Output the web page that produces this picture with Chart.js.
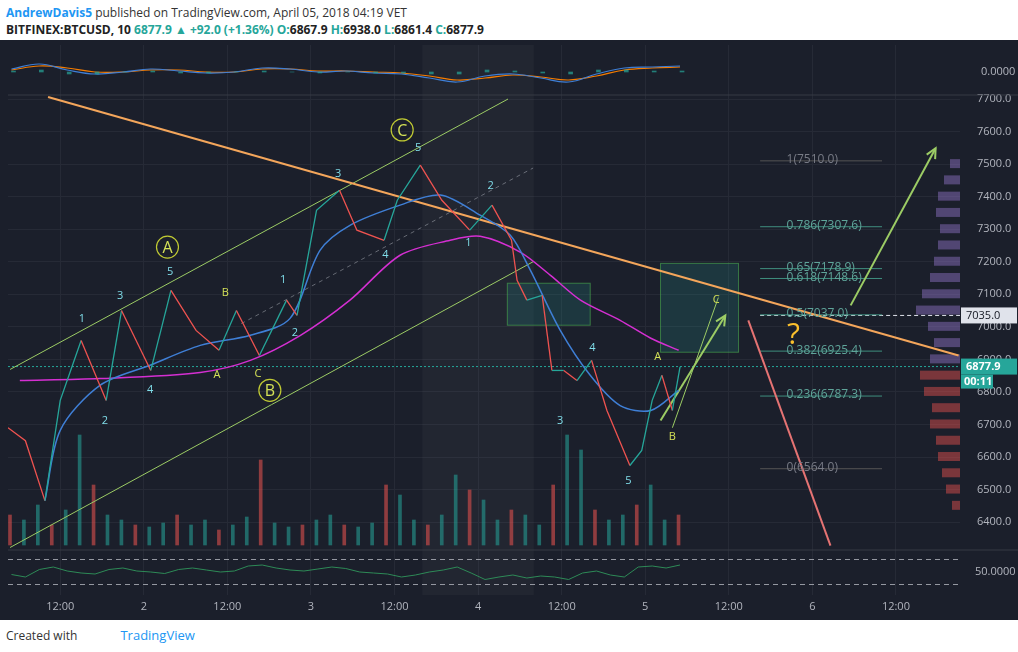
<!DOCTYPE html>
<html>
<head>
<meta charset="utf-8">
<script src="https://cdn.jsdelivr.net/npm/chart.js@4"></script>
<style>
  body { margin: 0; width: 1018px; height: 652px; background: #fff; font-family: "Open Sans", sans-serif; overflow: hidden; }
  #head1 { position: absolute; left: 6px; top: 4px; font-size: 12px; color: #333; }
  #head1 b { color: #2196f3; }
  #head2 { position: absolute; left: 6px; top: 21px; font-size: 12px; font-weight: bold; color: #222; }
  #head2 .g { color: #26a69a; }
  #wrap { position: absolute; left: 0; top: 40px; width: 1018px; height: 580px; background: #1b1f2b; }
  #foot { position: absolute; left: 6px; top: 626px; font-size: 12px; color: #333; }
  #foot span { color: #2196f3; font-size: 13px; margin-left: 40px; }
</style>
</head>
<body>
<div id="head1"><b>AndrewDavis5</b> published on TradingView.com, April 05, 2018 04:19 VET</div>
<div id="head2">BITFINEX:BTCUSD, 10 <span class="g">6877.9 ▲ +92.0 (+1.36%) O:</span>6867.9 <span class="g">H:</span>6938.0 <span class="g">L:</span>6861.4 <span class="g">C:</span>6877.9</div>
<div id="wrap"><canvas id="c"></canvas></div>
<div id="foot">Created with <span>TradingView</span></div>
<script>
// hours since Apr 1 00:00
const priceHours = [4.5, 7, 9.8, 12, 15, 18.6, 20.8, 25, 27.9, 31.5, 34.8, 37.3, 40.6, 44.5, 46, 48.8, 52.1, 54.6, 58.5, 60.4, 63.7, 66.8, 70.8, 74, 76.8, 77.6, 79, 81.2, 82.6, 84.3, 86.2, 88.3, 90.5, 93.8, 95.5, 97, 98.4, 99.9, 101]
const priceClose = [6690, 6650, 6466, 6774, 6958, 6774, 7050, 6866, 7112, 6989, 6928, 7050, 6912, 7082, 7035, 7358, 7420, 7297, 7266, 7389, 7497, 7389, 7297, 7374, 7266, 7143, 7082, 7097, 6866, 6866, 6835, 6897, 6743, 6574, 6620, 6774, 6851, 6743, 6877]

const maFastHours = [9.8, 12, 17.7, 24.9, 32.1, 39.3, 45, 49.3, 53.6, 60.8, 66.6, 72.3, 76.6, 79.5, 83.8, 88.1, 92.4, 96.8, 100.8]
const maFast = [6466, 6682, 6820, 6882, 6943, 6974, 7026, 7235, 7312, 7374, 7405, 7343, 7282, 7174, 6989, 6851, 6758, 6743, 6805]
const maSlowHours = [6.2, 17.7, 32.1, 39.3, 46.5, 53.6, 60.8, 68, 72.3, 78.1, 82.4, 86.7, 92.4, 96.8, 100.8]
const maSlow = [6835, 6841, 6860, 6897, 6974, 7082, 7220, 7266, 7278, 7229, 7158, 7082, 7020, 6965, 6928]

const volumes = [30, 25, 40, 20, 35, 110, 60, 30, 25, 20, 18, 22, 30, 20, 25, 15, 20, 28, 85, 22, 18, 20, 25, 30, 20, 18, 22, 60, 50, 25, 20, 30, 70, 55, 45, 25, 35, 30, 20, 60, 110, 95, 35, 25, 30, 40, 60, 25, 30]
const oscValues = [45, 40, 55, 60, 52, 48, 46, 55, 58, 52, 50, 47, 55, 58, 54, 50, 52, 62, 64, 58, 54, 52, 56, 60, 57, 50, 48, 46, 40, 44, 50, 54, 60, 48, 35, 40, 44, 38, 42, 40, 35, 48, 52, 44, 40, 60, 62, 58, 64]
const macdFast = [3, 8, 2, -2, 0, 3, 1, -1, 0, 4, 3, 0, 1, -1, -2, -6, -10, -4, -2, -6, -10, -2, 4, 5, 6]
const macdSlow = [2, 6, 4, 0, 0, 2, 2, 0, 0, 3, 3, 1, 1, 0, -1, -4, -8, -6, -3, -5, -8, -4, 2, 4, 5]

const timeTicks = [12, 24, 36, 48, 60, 72, 84, 96, 108, 120, 132]
const priceTicks = [6400, 6500, 6600, 6700, 6800, 6900, 7000, 7100, 7200, 7300, 7400, 7500, 7600, 7700]
const fibLevels = [['1', 7510.0], ['0.786', 7307.6], ['0.65', 7178.9], ['0.618', 7148.6], ['0.5', 7037.0], ['0.382', 6925.4], ['0.236', 6787.3], ['0', 6564.0]]
const profilePrices = [6450, 6500, 6550, 6600, 6650, 6700, 6750, 6800, 6850, 6900, 6950, 7000, 7050, 7100, 7150, 7200, 7250, 7300, 7350, 7400, 7450, 7500]
const profileSize = [8, 14, 18, 22, 24, 30, 28, 36, 40, 30, 26, 32, 44, 38, 30, 26, 22, 20, 24, 22, 16, 10]

const waveLabels = [
  [15.1, 7026, '1', 'n'], [18.4, 6712, '2', 'n'], [20.6, 7094, '3', 'n'], [24.9, 6805, '4', 'n'], [27.8, 7168, '5', 'n'],
  [35.7, 7103, 'B', 'l'], [34.5, 6851, 'A', 'l'], [40.4, 6857, 'C', 'l'],
  [44.0, 7143, '1', 'n'], [45.7, 6980, '2', 'n'], [51.9, 7469, '3', 'n'], [58.7, 7220, '4', 'n'], [63.4, 7549, '5', 'n'],
  [70.6, 7257, '1', 'n'], [73.8, 7432, '2', 'n'], [83.8, 6712, '3', 'n'], [88.4, 6934, '4', 'n'], [93.6, 6528, '5', 'n'],
  [97.8, 6909, 'A', 'l'], [99.9, 6663, 'B', 'l'], [106.2, 7082, 'C', 'l'],
]
const circleLabels = [[27.4, 7245, 'A'], [42.1, 6805, 'B'], [61.1, 7605, 'C']]
const lastPrice = 6877.9
const markPrice = 7035.0

const pts = (xs, ys) => xs.map((x, i) => ({ x, y: ys[i] }))
const step2 = (arr, from, step) => arr.map((y, i) => ({ x: from + i * step, y }))

function line(data, color, opts) {
  return Object.assign({ type: 'line', data, borderColor: color, borderWidth: 1.5, pointRadius: 0, tension: 0, yAxisID: 'y' }, opts)
}

const extras = {
  id: 'extras',
  beforeDatasetsDraw(chart) {
    const { ctx, scales: { x, y } } = chart
    ctx.save()
    // lighter shaded time band
    ctx.fillStyle = 'rgba(255,255,255,0.03)'
    const sx0 = x.getPixelForValue(64), sx1 = x.getPixelForValue(80)
    ctx.fillRect(sx0, chart.chartArea.top, sx1 - sx0, chart.chartArea.bottom - chart.chartArea.top)
    ctx.fillStyle = 'rgba(38,166,154,0.18)'
    ctx.strokeStyle = 'rgba(76,175,80,0.6)'
    ;[[76.2, 88.1, 7134, 7005], [98.2, 109.4, 7195, 6922]].forEach(b => {
      const x0 = x.getPixelForValue(b[0]), x1 = x.getPixelForValue(b[1])
      const y0 = y.getPixelForValue(b[2]), y1 = y.getPixelForValue(b[3])
      ctx.fillRect(x0, y0, x1 - x0, y1 - y0)
      ctx.strokeRect(x0, y0, x1 - x0, y1 - y0)
    })
    // volume profile
    const right = chart.chartArea.right
    profilePrices.forEach((p, i) => {
      const yy = y.getPixelForValue(p)
      ctx.fillStyle = p < lastPrice ? 'rgba(239,83,80,0.45)' : 'rgba(149,117,205,0.45)'
      ctx.fillRect(right - profileSize[i], yy - 5, profileSize[i], 9)
    })
    ctx.restore()
  },
  afterDatasetsDraw(chart) {
    const { ctx, scales: { x, y } } = chart
    const area = chart.chartArea
    ctx.save()
    ctx.textAlign = 'center'
    ctx.textBaseline = 'middle'
    // axis labels
    ctx.font = '11px "Open Sans"'
    ctx.fillStyle = '#b2b5be'
    timeTicks.forEach(t => ctx.fillText(t % 24 === 0 ? String(t / 24 + 1) : '12:00', x.getPixelForValue(t), area.bottom + 12))
    ctx.textAlign = 'left'
    priceTicks.forEach(p => ctx.fillText(p.toFixed(1), area.right + 17, y.getPixelForValue(p)))
    ctx.textAlign = 'center'
    waveLabels.forEach(l => {
      ctx.fillStyle = l[3] === 'n' ? '#80deea' : '#d4e157'
      ctx.fillText(l[2], x.getPixelForValue(l[0]), y.getPixelForValue(l[1]))
    })
    ctx.font = '16px "Open Sans"'
    circleLabels.forEach(l => {
      const cx = x.getPixelForValue(l[0]), cy = y.getPixelForValue(l[1])
      ctx.strokeStyle = '#c0ca33'
      ctx.lineWidth = 1.2
      ctx.beginPath(); ctx.arc(cx, cy, 11, 0, Math.PI * 2); ctx.stroke()
      ctx.fillStyle = '#d4e157'
      ctx.fillText(l[2], cx, cy + 1)
    })
    ctx.font = '30px "Open Sans"'
    ctx.fillStyle = '#fbc02d'
    ctx.fillText('?', x.getPixelForValue(117.3), y.getPixelForValue(6974))
    // fib texts
    ctx.font = '12px "Open Sans"'
    ctx.textAlign = 'left'
    fibLevels.forEach(f => {
      ctx.fillStyle = f[0] === '1' || f[0] === '0' ? '#787b86' : '#5fa59a'
      ctx.fillText(f[0] + '(' + f[1].toFixed(1) + ')', x.getPixelForValue(116.3), y.getPixelForValue(f[1]) - 1)
    })
    // arrowheads
    const heads = [[98.2, 6712, 107.5, 7035, '#9ccc65'], [125.5, 7066, 137.7, 7549, '#9ccc65']]
    heads.forEach(h => {
      const x0 = x.getPixelForValue(h[0]), y0 = y.getPixelForValue(h[1])
      const x1 = x.getPixelForValue(h[2]), y1 = y.getPixelForValue(h[3])
      const a = Math.atan2(y1 - y0, x1 - x0)
      ctx.strokeStyle = h[4]; ctx.lineWidth = 2
      ctx.beginPath()
      ctx.moveTo(x1 - 11 * Math.cos(a - 0.45), y1 - 11 * Math.sin(a - 0.45))
      ctx.lineTo(x1, y1)
      ctx.lineTo(x1 - 11 * Math.cos(a + 0.45), y1 - 11 * Math.sin(a + 0.45))
      ctx.stroke()
    })
    // right side labels
    const ax = area.right
    const tag = (val, py, bg, fg, bold) => {
      ctx.fillStyle = bg
      ctx.fillRect(ax + 1, py - 8, 56, 16)
      ctx.fillStyle = fg
      ctx.font = (bold ? 'bold ' : '') + '11px "Open Sans"'
      ctx.fillText(val, ax + 6, py)
    }
    tag(markPrice.toFixed(1), y.getPixelForValue(markPrice), '#e0e3eb', '#131722')
    const ly = y.getPixelForValue(lastPrice)
    tag(lastPrice.toFixed(1), ly, '#26a69a', '#fff', true)
    ctx.fillStyle = '#26a69a'; ctx.fillRect(ax + 1, ly + 8, 32, 14)
    ctx.fillStyle = '#fff'; ctx.font = 'bold 11px "Open Sans"'; ctx.fillText('00:11', ax + 4, ly + 15)
    ctx.fillStyle = '#b2b5be'; ctx.font = '11px "Open Sans"'
    ctx.fillText('0.0000', ax + 21, chart.scales.yMacd.getPixelForValue(0))
    ctx.fillText('50.0000', ax + 15, chart.scales.yOsc.getPixelForValue(50))
    // panel separators
    ctx.strokeStyle = '#363a45'; ctx.lineWidth = 1
    ;[55, 510].forEach(py => { ctx.beginPath(); ctx.moveTo(area.left, py); ctx.lineTo(ax + 58, py); ctx.stroke() })
    ctx.restore()
  }
}

const macdHist = macdFast.map((v, i) => v - macdSlow[i])

new Chart(document.getElementById('c'), {
  data: {
    datasets: [
      line(pts(priceHours, priceClose), '#26a69a', {
        borderWidth: 1.3,
        segment: { borderColor: c => c.p1.parsed.y >= c.p0.parsed.y ? '#26a69a' : '#ef5350' },
      }),
      line(pts(maFastHours, maFast), '#3f7fd6', { tension: 0.3 }),
      line(pts(maSlowHours, maSlow), '#d52fd2', { tension: 0.3 }),
      line([{ x: 10.25, y: 7706 }, { x: 141, y: 6912 }], '#f4a65b', { borderWidth: 2 }),
      line([{ x: 4.8, y: 6869 }, { x: 76.3, y: 7700 }], '#9ccc65', { borderWidth: 1 }),
      line([{ x: 4.8, y: 6322 }, { x: 79.9, y: 7200 }], '#9ccc65', { borderWidth: 1 }),
      line([{ x: 38, y: 7010 }, { x: 79.9, y: 7488 }], 'rgba(178,181,190,0.5)', { borderWidth: 1, borderDash: [4, 4] }),
      line([{ x: 98.2, y: 6712 }, { x: 107.5, y: 7035 }], '#9ccc65', { borderWidth: 2 }),
      line([{ x: 99.9, y: 6690 }, { x: 106.5, y: 7090 }], '#9ccc65', { borderWidth: 1 }),
      line([{ x: 125.5, y: 7066 }, { x: 137.7, y: 7549 }], '#9ccc65', { borderWidth: 2 }),
      line([{ x: 110.8, y: 7020 }, { x: 122.6, y: 6328 }], '#e57373', { borderWidth: 2 }),
      ...fibLevels.map(f => line([{ x: 112.5, y: f[1] }, { x: 130, y: f[1] }], f[0] === '1' || f[0] === '0' ? '#555' : '#3f8f7f', { borderWidth: 1 })),
      line([{ x: 4.5, y: lastPrice }, { x: 141.2, y: lastPrice }], '#26a69a', { borderWidth: 1, borderDash: [2, 2] }),
      line([{ x: 112.5, y: markPrice }, { x: 141.2, y: markPrice }], '#e0e3eb', { borderWidth: 1, borderDash: [4, 3] }),
      {
        type: 'bar', yAxisID: 'yVol', data: step2(volumes, 5, 2), barThickness: 3,
        backgroundColor: volumes.map((v, i) => i % 3 === 0 ? 'rgba(239,83,80,0.55)' : 'rgba(38,166,154,0.55)'),
      },
      {
        type: 'bar', yAxisID: 'yMacd', data: step2(macdHist, 5, 4), barThickness: 4,
        backgroundColor: 'rgba(38,166,154,0.7)',
      },
      line(step2(macdFast, 5, 4), '#3f7fd6', { yAxisID: 'yMacd', borderWidth: 1.2, tension: 0.4 }),
      line(step2(macdSlow, 5, 4), '#f57c00', { yAxisID: 'yMacd', borderWidth: 1.2, tension: 0.4 }),
      line(step2(oscValues, 5, 2), '#2e8b57', { yAxisID: 'yOsc', borderWidth: 1 }),
      line([{ x: 4.5, y: 75 }, { x: 141.2, y: 75 }], '#9598a1', { yAxisID: 'yOsc', borderWidth: 1, borderDash: [5, 4] }),
      line([{ x: 4.5, y: 25 }, { x: 141.2, y: 25 }], '#9598a1', { yAxisID: 'yOsc', borderWidth: 1, borderDash: [5, 4] }),
    ],
  },
  options: {
    responsive: true,
    maintainAspectRatio: false,
    animation: false,
    layout: { padding: { left: 8, top: 5, right: 0, bottom: 0 } },
    plugins: { legend: { display: false }, tooltip: { enabled: false } },
    scales: {
      x: {
        type: 'linear', min: 4.5, max: 141.2, offset: false,
        grid: { color: '#262a36', drawTicks: false, offset: false },
        border: { display: false },
        afterFit: s => { s.height = 25 },
        afterBuildTicks: s => { s.ticks = timeTicks.map(v => ({ value: v })) },
        ticks: { display: false },
      },
      y: {
        position: 'right', min: 6176, max: 7866,
        grid: { color: '#262a36', drawTicks: false },
        border: { display: false },
        afterFit: s => { s.width = 58 },
        afterBuildTicks: s => { s.ticks = priceTicks.map(v => ({ value: v })) },
        ticks: { display: false },
      },
      yVol: { display: false, min: -50, max: 500 },
      yMacd: { display: false, min: -523, max: 27 },
      yOsc: { display: false, min: 4, max: 1104 },
    },
  },
  plugins: [extras],
})
</script>
</body>
</html>
